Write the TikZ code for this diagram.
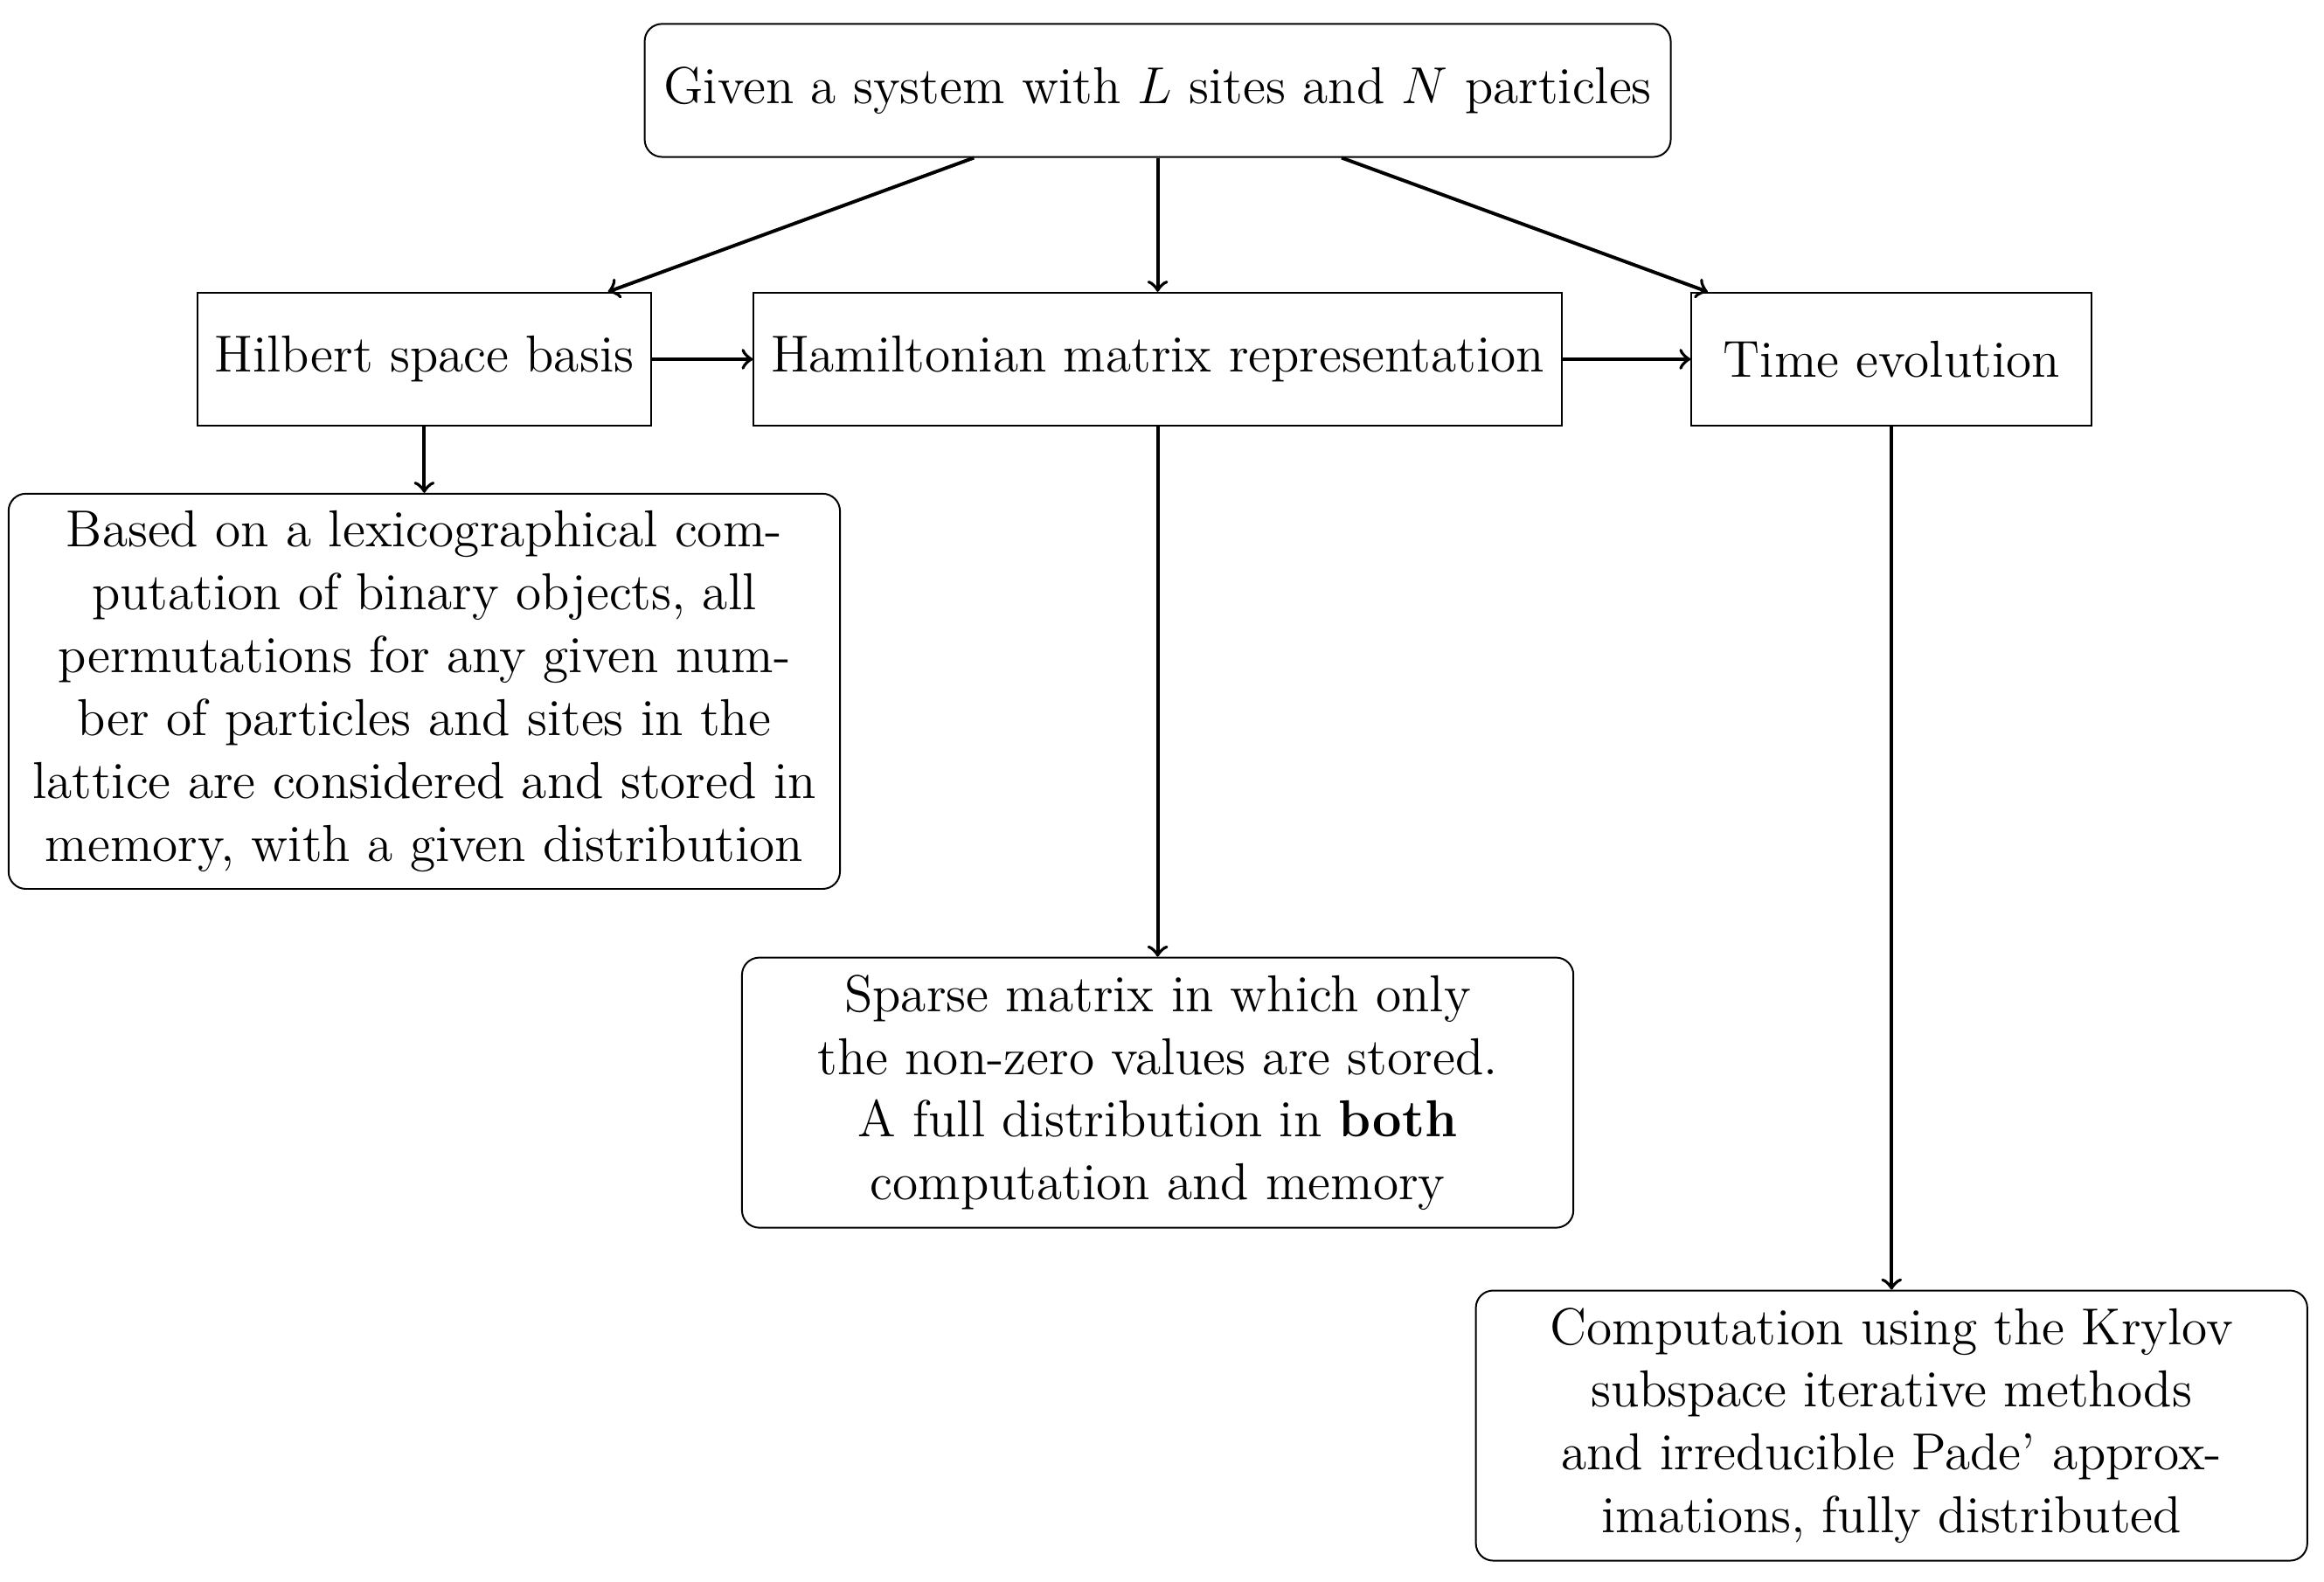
\documentclass[12pt,tikz,border=0pt]{standalone}
\usetikzlibrary{positioning}
\begin{document}
\begin{tikzpicture}[>=to,node distance=8mm,block/.style={draw,align=center,minimum height=1.08cm},note/.style={draw,rounded corners=4pt,align=center,minimum width=6.75cm},arr/.style={->,thick}]
\useasboundingbox (0,0) rectangle (18.868,-12.839);
\node[block,rounded corners=4pt,minimum width=8.33cm] (sys) at (9.399,-0.734) {Given a system with $L$ sites and $N$ particles};
\node[block,below=1.088cm of sys,minimum width=6.56cm] (ham) {Hamiltonian matrix representation};
\node[block,left=0.819cm of ham,minimum width=3.68cm] (basis) {Hilbert space basis};
\node[block,right=1.039cm of ham,minimum width=3.25cm] (evol) {Time evolution};
\draw[arr](sys)--(basis);\draw[arr](sys)--(ham);\draw[arr](sys)--(evol);
\draw[arr](basis)--(ham);\draw[arr](ham)--(evol);
\node[note,below=0.538cm of basis] (lexico) {Based on a lexicographical com-\\putation of binary objects, all\\permutations for any given num-\\ber of particles and sites in the\\lattice are considered and stored in\\memory, with a given distribution};
\node[note,below=4.304cm of ham] (sparse) {Sparse matrix in which only\\the non-zero values are stored.\\A full distribution in \textbf{both}\\computation and memory};
\node[note,below=7.007cm of evol] (krylov) {Computation using the Krylov\\subspace iterative methods\\and irreducible Pade' approx-\\imations, fully distributed};
\draw[arr](basis)--(lexico);\draw[arr](ham)--(sparse);\draw[arr](evol)--(krylov);
\end{tikzpicture}
\end{document}
